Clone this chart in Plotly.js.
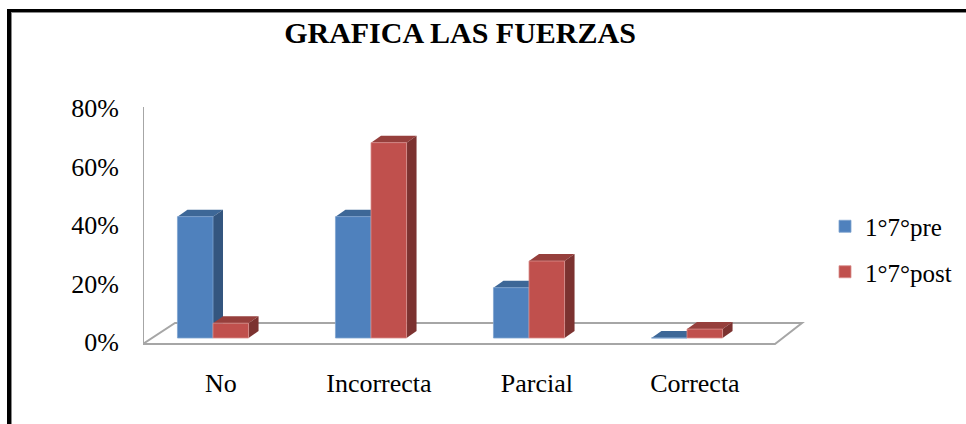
<!DOCTYPE html>
<html>
<head>
<meta charset="utf-8">
<script src="https://cdn.plot.ly/plotly-3.0.1.min.js"></script>
<style>
  html, body { margin: 0; padding: 0; background: #fff; }
  #wrap { position: relative; width: 966px; height: 424px; overflow: hidden; }
  #chart { width: 966px; height: 424px; }
  #frame { position: absolute; left: 7px; top: 9px; width: 980px; height: 440px;
           border-left: 4px solid #000; border-top: 3px solid #000;
           box-shadow: inset 1px 1px 0 #8a8a8a; pointer-events: none; }
</style>
</head>
<body>
<div id="wrap"><div id="chart"></div><div id="frame"></div></div>
<script>
// ---- data ----
const categories = ['No', 'Incorrecta', 'Parcial', 'Correcta'];
const seriesNames = ['1°7°pre', '1°7°post'];
const pre = [0.41, 0.41, 0.17, 0.00];
const post = [0.05, 0.66, 0.26, 0.03];
const yTickVals = [0, 0.2, 0.4, 0.6, 0.8];

// ---- layout constants (pixels) ----
const W = 966, H = 424;
const plotL = 143, plotR = 810, plotT = 102, plotB = 348;
const cat0Px = 213, catStepPx = 158;          // x pixel of first category, spacing
const yScalePx = (plotB - plotT) / 0.84;      // tick axis px per unit
const barBasePx = 338, barScalePx = 296;      // bar axis
const depthDxPx = 10, depthDyPx = 7;          // 3D depth offset
const barW = 0.225;

const xRange = [(plotL - cat0Px) / catStepPx, (plotR - cat0Px) / catStepPx];
const y2Range = [-(plotB - barBasePx) / barScalePx, (barBasePx - plotT) / barScalePx];
const dx = depthDxPx / catStepPx, dy = depthDyPx / barScalePx;

const xd = px => (px - cat0Px) / catStepPx;
const yd = py => (plotB - py) / yScalePx - 0.02;

const colors = {
  pre:  { front: '#4F81BD', top: '#3D6797', side: '#34567F', edge: '#7FA3CF' },
  post: { front: '#C0504D', top: '#963F3C', side: '#7C3230', edge: '#D88E8C' }
};

const shapes = [];
// floor and wall lines (decoration)
const grey = '#A6A6A6';
shapes.push({ type: 'path', layer: 'below', xref: 'x', yref: 'y',
  path: `M${xd(143)},${yd(344)} L${xd(175)},${yd(323)} L${xd(802)},${yd(323)} L${xd(775)},${yd(344)} Z`,
  line: { color: grey, width: 2 } });
shapes.push({ type: 'line', layer: 'below', xref: 'x', yref: 'y',
  x0: xd(143), x1: xd(143), y0: yd(107), y1: yd(344), line: { color: grey, width: 2 } });

function faces(vals, off, c) {
  vals.forEach((v, i) => {
    const x0 = i + off, x1 = i + off + barW;
    // top face
    shapes.push({ type: 'path', layer: 'below', xref: 'x', yref: 'y2',
      path: `M${x0},${v} L${x0 + dx},${v + dy} L${x1 + dx},${v + dy} L${x1},${v} Z`,
      fillcolor: c.top, line: { width: 0 } });
    // side face
    if (v > 0) {
      shapes.push({ type: 'path', layer: 'below', xref: 'x', yref: 'y2',
        path: `M${x1},0 L${x1},${v} L${x1 + dx},${v + dy} L${x1 + dx},${dy} Z`,
        fillcolor: c.side, line: { width: 0 } });
    }
  });
}
faces(pre, -barW, colors.pre);
faces(post, 0, colors.post);

const idx = categories.map((c, i) => i);
const serif = '"Liberation Serif", "Times New Roman", serif';

const traces = [
  { type: 'bar', name: seriesNames[0], x: idx, y: pre, yaxis: 'y2', width: barW, offset: -barW,
    text: categories, hovertemplate: '%{text}: %{y:.0%}<extra>' + seriesNames[0] + '</extra>', textposition: 'none',
    marker: { color: colors.pre.front, line: { color: colors.pre.edge, width: 0.8 } }, legendgroup: 'a' },
  { type: 'bar', name: seriesNames[1], x: idx, y: post, yaxis: 'y2', width: barW, offset: 0,
    text: categories, hovertemplate: '%{text}: %{y:.0%}<extra>' + seriesNames[1] + '</extra>', textposition: 'none',
    marker: { color: colors.post.front, line: { color: colors.post.edge, width: 0.8 } }, legendgroup: 'b' }
];

const layout = {
  width: W, height: H,
  paper_bgcolor: '#fff', plot_bgcolor: 'rgba(0,0,0,0)',
  margin: { l: plotL, r: W - plotR, t: plotT, b: H - plotB, autoexpand: false },
  font: { family: serif, color: '#000', size: 25 },
  title: { text: '<b>GRAFICA LAS FUERZAS</b>', font: { family: serif, size: 30, color: '#000' },
           xref: 'container', yref: 'container', x: 460 / W, xanchor: 'center', y: 1 - 32 / H, yanchor: 'middle' },
  barmode: 'overlay',
  xaxis: { range: xRange, tickvals: idx.map(i => i + 0.05), ticktext: categories,
           showgrid: false, zeroline: false, showline: false, ticks: '', ticklabelstandoff: 17,
           tickfont: { family: serif, size: 26, color: '#000' }, fixedrange: true },
  yaxis: { range: [-0.02, 0.82], tickvals: yTickVals, tickformat: '.0%',
           showgrid: false, zeroline: false, showline: false, ticks: '', ticklabelstandoff: 23,
           tickfont: { family: serif, size: 26, color: '#000' }, fixedrange: true },
  yaxis2: { range: y2Range, overlaying: 'y', showgrid: false, zeroline: false, showline: false,
            showticklabels: false, ticks: '', fixedrange: true },
  showlegend: true,
  legend: { xref: 'container', yref: 'container', x: 825 / W, y: 1 - 249 / H, xanchor: 'left', yanchor: 'middle',
            font: { family: serif, size: 25, color: '#000' }, bgcolor: 'rgba(0,0,0,0)',
            itemwidth: 30, traceorder: 'grouped', tracegroupgap: 10 },
  shapes: shapes
};

Plotly.newPlot('chart', traces, layout, { displayModeBar: false, staticPlot: true });
</script>
</body>
</html>
